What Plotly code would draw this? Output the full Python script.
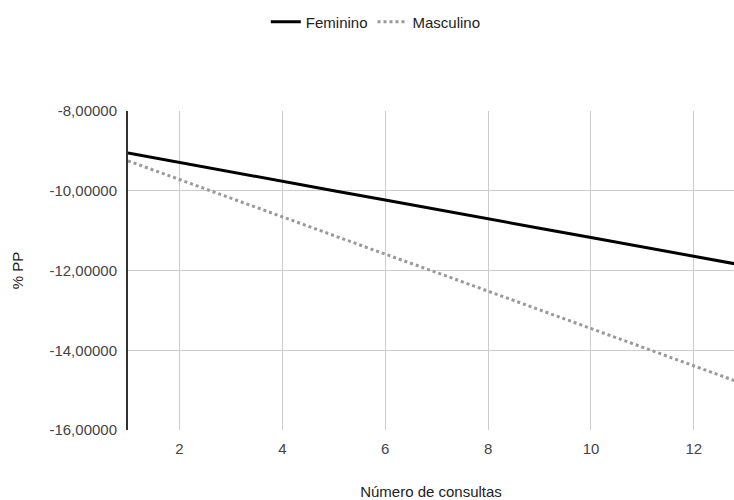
import plotly.graph_objects as go

consultas = [1, 2, 3, 4, 5, 6, 7, 8, 9, 10, 11, 12, 13]
feminino = [-9.05, -9.29, -9.52, -9.76, -10.00, -10.23, -10.47, -10.70, -10.94, -11.17, -11.41, -11.64, -11.88]
masculino = [-9.25, -9.72, -10.18, -10.65, -11.12, -11.59, -12.05, -12.52, -12.99, -13.46, -13.92, -14.39, -14.86]
y_ticks = [-16, -14, -12, -10, -8]
y_tick_labels = ["-16,00000", "-14,00000", "-12,00000", "-10,00000", "-8,00000"]

FONT = "Liberation Sans, Arial, sans-serif"

fig = go.Figure()
fig.add_trace(go.Scatter(x=consultas, y=feminino, name="Feminino", mode="lines",
                         line=dict(color="#000000", width=3)))
fig.add_trace(go.Scatter(x=consultas, y=masculino, name="Masculino", mode="lines",
                         line=dict(color="#999999", width=3, dash="dot")))

fig.update_layout(
    width=734, height=500,
    margin=dict(l=128, r=0, t=111, b=70),
    paper_bgcolor="white", plot_bgcolor="white",
    font=dict(family=FONT, size=15, color="#444444"),
    showlegend=True,
    legend=dict(orientation="h", xref="container", x=0.512, xanchor="center",
                yref="container", y=0.956, yanchor="middle",
                font=dict(size=15, color="#222222"),
                itemwidth=30, traceorder="normal"),
    xaxis=dict(range=[1, 12.78], dtick=2, tick0=0, showgrid=True, gridcolor="#cccccc",
               gridwidth=1, zeroline=False, showline=False, ticks="", ticklabelstandoff=8,
               tickfont=dict(size=15, color="#444444"),
               title=dict(text="Número de consultas", font=dict(size=15, color="#222222"), standoff=31)),
    yaxis=dict(range=[-16, -8], tickvals=y_ticks, ticktext=y_tick_labels, showgrid=True,
               gridcolor="#cccccc", gridwidth=1, zeroline=False, showline=True,
               linecolor="#333333", linewidth=2, ticks="", ticklabelstandoff=6,
               tickfont=dict(size=15, color="#444444"),
               title=dict(text="% PP", font=dict(size=15, color="#222222"), standoff=22)),
)

fig.write_html("out.html")
